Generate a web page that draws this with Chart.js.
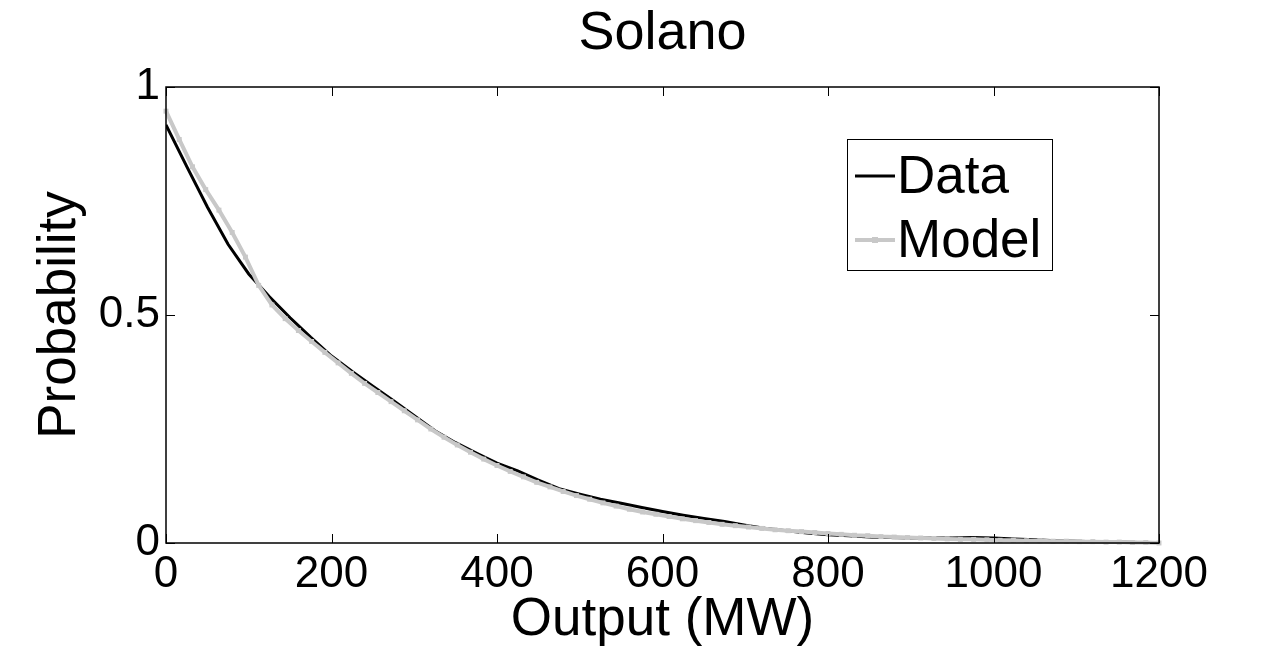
<!DOCTYPE html>
<html>
<head>
<meta charset="utf-8">
<script src="https://cdn.jsdelivr.net/npm/chart.js@4.4.1/dist/chart.umd.min.js"></script>
<style>
  html, body { margin:0; padding:0; background:#fff; }
  canvas { display:block; }
</style>
</head>
<body>
<canvas id="c" width="1280" height="654"></canvas>
<script>
// Solano output exceedance probability - data vs model
const dataX = [0,25,50,75,100,125,150,175,200,225,250,275,300,325,350,375,400,425,450,475,500,525,550,575,600,625,650,675,700,725,750,775,800,825,850,875,900,925,950,975,1000,1025,1050,1075,1100,1125,1150,1175,1200];
const dataY = [0.917,0.826,0.737,0.655,0.590,0.540,0.494,0.451,0.410,0.376,0.344,0.312,0.279,0.246,0.220,0.197,0.175,0.158,0.138,0.119,0.107,0.096,0.087,0.078,0.069,0.061,0.054,0.047,0.039,0.032,0.027,0.022,0.018,0.016,0.013,0.012,0.011,0.011,0.011,0.012,0.011,0.009,0.007,0.005,0.004,0.003,0.002,0.001,0.000];

const modelX = [0,16,32,48,64,80,96,112,128,144,160,176,192,208,224,240,256,272,288,304,320,336,352,368,384,400,416,432,448,464,480,496,512,528,544,560,576,592,608,624,640,656,672,688,704,720,736,752,768,784,800,816,832,848,864,880,896,912,928,944,960,976,992,1008,1024,1040,1056,1072,1088,1104,1120,1136,1152,1168,1184,1200];
const modelY = [0.947,0.885,0.825,0.775,0.730,0.681,0.627,0.565,0.522,0.492,0.466,0.442,0.418,0.395,0.372,0.350,0.330,0.310,0.290,0.270,0.250,0.232,0.215,0.199,0.184,0.170,0.157,0.145,0.133,0.123,0.113,0.104,0.096,0.088,0.081,0.074,0.068,0.063,0.058,0.053,0.049,0.045,0.041,0.038,0.035,0.032,0.029,0.027,0.025,0.023,0.021,0.019,0.017,0.016,0.014,0.013,0.012,0.011,0.010,0.009,0.008,0.008,0.007,0.006,0.006,0.005,0.005,0.004,0.004,0.003,0.003,0.002,0.002,0.001,0.001,0.000];

const seriesNames = ["Data", "Model"];
const titleText = "Solano";
const FONT = "'Liberation Sans', Arial, Helvetica, sans-serif";
const GRAY = "#c8c8c8";

const pts = (xs, ys) => xs.map((x,i)=>({x, y: ys[i]}));

// box + inward ticks on all four sides, matlab style
const framePlugin = {
  id: 'frame',
  afterDatasetsDraw(chart){
    const {ctx, chartArea: a, scales} = chart;
    const len = 9;
    ctx.save();
    ctx.strokeStyle = '#000';
    ctx.lineWidth = 1.5;
    ctx.strokeRect(a.left, a.top, a.right - a.left, a.bottom - a.top);
    ctx.beginPath();
    for(const t of scales.x.ticks){
      const px = Math.round(scales.x.getPixelForValue(t.value)) + 0.5;
      ctx.moveTo(px, a.bottom); ctx.lineTo(px, a.bottom - len);
      ctx.moveTo(px, a.top); ctx.lineTo(px, a.top + len);
    }
    for(const t of scales.y.ticks){
      const py = Math.round(scales.y.getPixelForValue(t.value)) + 0.5;
      ctx.moveTo(a.left, py); ctx.lineTo(a.left + len, py);
      ctx.moveTo(a.right, py); ctx.lineTo(a.right - len, py);
    }
    ctx.lineWidth = 1;
    ctx.stroke();
    // title centred over the axes box
    ctx.fillStyle = '#000';
    ctx.font = `54px ${FONT}`;
    ctx.textAlign = 'center';
    ctx.textBaseline = 'middle';
    ctx.fillText(titleText, (a.left + a.right) / 2, 34);
    ctx.restore();
  }
};

// legend drawn inside the plot, top right
const legendPlugin = {
  id: 'innerLegend',
  afterDraw(chart){
    const {ctx} = chart;
    const box = {x: 847.5, y: 139.5, w: 205, h: 131};
    ctx.save();
    ctx.fillStyle = '#fff';
    ctx.fillRect(box.x, box.y, box.w, box.h);
    ctx.strokeStyle = '#000';
    ctx.lineWidth = 1;
    ctx.strokeRect(box.x, box.y, box.w, box.h);
    const rows = [176, 240];
    chart.data.datasets.forEach((ds, i)=>{
      const y = rows[i];
      ctx.strokeStyle = ds.borderColor;
      ctx.lineWidth = ds.borderWidth;
      ctx.beginPath(); ctx.moveTo(855, y); ctx.lineTo(895, y); ctx.stroke();
      if(ds.pointRadius > 0){
        ctx.fillStyle = ds.pointBackgroundColor;
        ctx.fillRect(875 - 3, y - 3, 6, 6);
      }
      ctx.fillStyle = '#000';
      ctx.font = `53px ${FONT}`;
      ctx.textBaseline = 'middle';
      ctx.textAlign = 'left';
      ctx.fillText(ds.label, 897, y + 2);
    });
    ctx.restore();
  }
};

new Chart(document.getElementById('c'), {
  type: 'line',
  data: {
    datasets: [
      { label: seriesNames[0], data: pts(dataX, dataY), borderColor: '#000', backgroundColor: '#000',
        borderWidth: 3, pointRadius: 0, order: 1, tension: 0 },
      { label: seriesNames[1], data: pts(modelX, modelY), borderColor: GRAY, backgroundColor: GRAY,
        pointBackgroundColor: GRAY, pointBorderColor: GRAY, pointStyle: 'rect',
        borderWidth: 4, pointRadius: 3.5, pointBorderWidth: 0, order: 0, tension: 0, clip: false }
    ]
  },
  options: {
    responsive: false,
    animation: false,
    devicePixelRatio: 1,
    layout: { padding: { left: 0, right: 121, top: 87, bottom: 0 } },
    plugins: {
      legend: { display: false },
      tooltip: { enabled: false },
      title: { display: false }
    },
    scales: {
      x: {
        type: 'linear', min: 0, max: 1200,
        grid: { display: false, drawTicks: false }, border: { display: false },
        ticks: { stepSize: 200, color: '#000', padding: 5, maxRotation: 0,
          font: { family: FONT, size: 44 }, callback: v => String(v) },
        title: { display: true, text: 'Output (MW)', color: '#000',
          font: { family: FONT, size: 53 }, padding: { top: 0, bottom: 2 } },
        afterFit(s){ s.height = 111; }
      },
      y: {
        type: 'linear', min: 0, max: 1,
        grid: { display: false, drawTicks: false }, border: { display: false },
        ticks: { stepSize: 0.5, color: '#000', padding: 6,
          font: { family: FONT, size: 44 }, callback: v => String(v) },
        title: { display: true, text: 'Probability', color: '#000',
          font: { family: FONT, size: 53 }, padding: { top: 29, bottom: 0 } },
        afterFit(s){ s.width = 166; }
      }
    }
  },
  plugins: [framePlugin, legendPlugin]
});
</script>
</body>
</html>
